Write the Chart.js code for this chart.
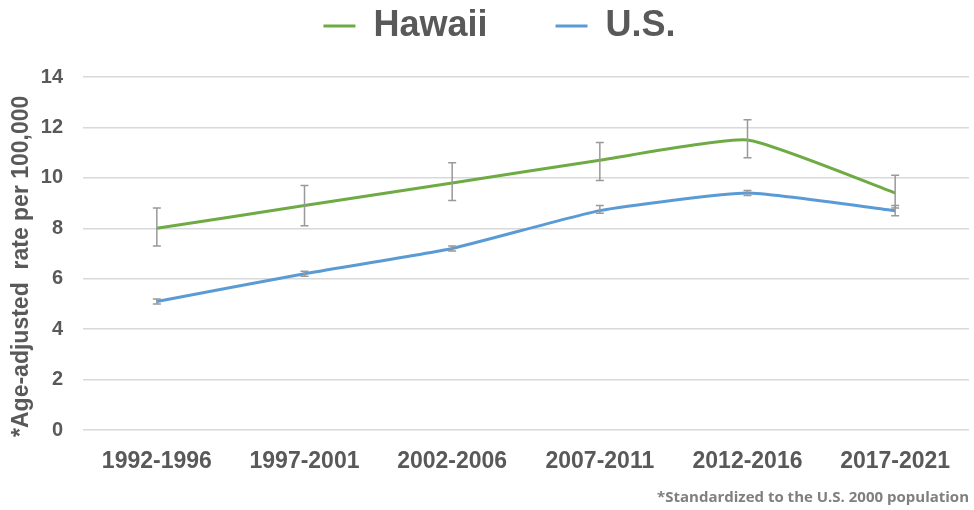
<!DOCTYPE html>
<html>
<head>
<meta charset="utf-8">
<script src="https://cdn.jsdelivr.net/npm/chart.js@4/dist/chart.umd.min.js"></script>
<style>
  html, body { margin: 0; padding: 0; background: #fff; }
  #wrap { width: 974px; height: 510px; position: relative; }
</style>
</head>
<body>
<div id="wrap"><canvas id="rateChart"></canvas></div>
<script>
// periods and rates
const periods = ['1992-1996', '1997-2001', '2002-2006', '2007-2011', '2012-2016', '2017-2021'];
const hawaiiRate = [8.0, 8.9, 9.8, 10.7, 11.5, 9.4];
const hawaiiLow  = [7.3, 8.1, 9.1, 9.9, 10.8, 8.8];
const hawaiiHigh = [8.8, 9.7, 10.6, 11.4, 12.3, 10.1];
const usRate = [5.1, 6.2, 7.2, 8.7, 9.4, 8.7];
const usLow  = [5.0, 6.1, 7.1, 8.6, 9.3, 8.5];
const usHigh = [5.2, 6.3, 7.3, 8.9, 9.5, 8.9];

const grayText = '#595959';
const font = 'Liberation Sans, Arial, sans-serif';

// draws the confidence interval whiskers
const errorBars = {
    id: 'errorBars',
    afterDatasetsDraw(chart) {
        const ctx = chart.ctx;
        const y = chart.scales.y;
        chart.data.datasets.forEach(function(ds, i) {
            const meta = chart.getDatasetMeta(i);
            ctx.save();
            ctx.strokeStyle = '#999999';
            ctx.lineWidth = 1.5;
            meta.data.forEach(function(pt, j) {
                const top = y.getPixelForValue(ds.high[j]);
                const bot = y.getPixelForValue(ds.low[j]);
                ctx.beginPath();
                ctx.moveTo(pt.x, top); ctx.lineTo(pt.x, bot);
                ctx.moveTo(pt.x - 4, top); ctx.lineTo(pt.x + 4, top);
                ctx.moveTo(pt.x - 4, bot); ctx.lineTo(pt.x + 4, bot);
                ctx.stroke();
            });
            ctx.restore();
        });
    }
};

// extra room under the legend, and nudge it a bit right
const legendGap = {
    id: 'legendGap',
    beforeInit(chart) {
        const fit = chart.legend.fit;
        chart.legend.fit = function() {
            fit.bind(chart.legend)();
            this.height += 23;
        };
    },
    afterLayout(chart) {
        chart.legend.left += 12;
        chart.legend.right += 12;
    }
};

new Chart(document.getElementById('rateChart'), {
    type: 'line',
    data: {
        labels: periods,
        datasets: [{
            label: 'Hawaii',
            data: hawaiiRate,
            low: hawaiiLow,
            high: hawaiiHigh,
            borderColor: '#6fab45',
            backgroundColor: '#6fab45',
            borderWidth: 3,
            pointRadius: 0,
            tension: 0.15
        }, {
            label: 'U.S.',
            data: usRate,
            low: usLow,
            high: usHigh,
            borderColor: '#5b9bd5',
            backgroundColor: '#5b9bd5',
            borderWidth: 3,
            pointRadius: 0,
            tension: 0.15
        }]
    },
    options: {
        responsive: true,
        maintainAspectRatio: false,
        animation: false,
        layout: { padding: { left: 6, right: 5, top: 0, bottom: 0 } },
        plugins: {
            legend: {
                position: 'top',
                labels: {
                    usePointStyle: true,
                    pointStyle: 'line',
                    pointStyleWidth: 32,
                    boxHeight: 3,
                    padding: 8,
                    color: grayText,
                    font: { family: font, size: 36, weight: 'bold' },
                    generateLabels(chart) {
                        const items = Chart.defaults.plugins.legend.labels.generateLabels(chart);
                        items[0].text = items[0].text + '\u00a0'.repeat(6);
                        return items;
                    }
                }
            },
            subtitle: {
                display: true,
                position: 'bottom',
                align: 'end',
                text: '*Standardized to the U.S. 2000 population',
                color: '#7f7f7f',
                font: { family: 'Open Sans', size: 15, weight: 'bold' },
                padding: { top: 6, bottom: 3 }
            },
            tooltip: { enabled: false }
        },
        scales: {
            x: {
                offset: true,
                grid: { display: false, drawTicks: false },
                border: { display: false },
                ticks: {
                    color: grayText,
                    padding: 18,
                    maxRotation: 0,
                    font: { family: font, size: 23, weight: 'bold' }
                },
                afterFit(scale) { scale.height = 53; }
            },
            y: {
                min: 0,
                max: 14,
                ticks: {
                    stepSize: 2,
                    color: grayText,
                    padding: 20,
                    font: { family: font, size: 20, weight: 'bold' }
                },
                grid: { color: '#d9d9d9', lineWidth: 1.5, drawTicks: false },
                border: { display: false },
                title: {
                    display: true,
                    // trailing spaces push the visible text down a little
                    text: '*Age-adjusted  rate per 100,000\u00a0\u00a0\u00a0\u00a0',
                    color: grayText,
                    padding: { top: 2, bottom: 6 },
                    font: { family: font, size: 23, weight: 'bold' }
                },
                afterFit(scale) { scale.width = 77; }
            }
        }
    },
    plugins: [errorBars, legendGap]
});
</script>
</body>
</html>
